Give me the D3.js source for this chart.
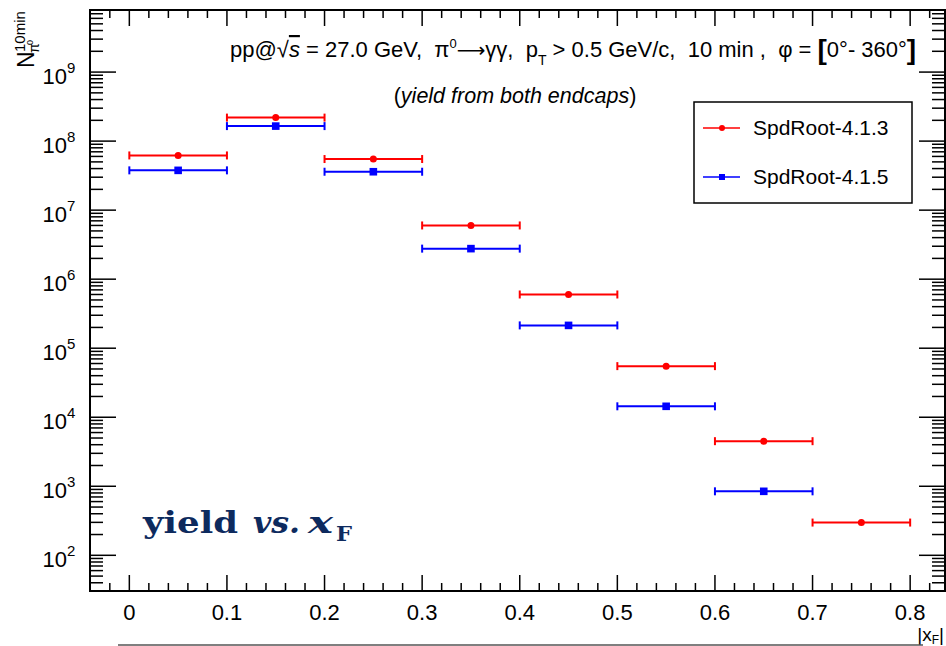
<!DOCTYPE html>
<html>
<head>
<meta charset="utf-8">
<script src="https://cdn.jsdelivr.net/npm/d3@7"></script>
<style>
  html, body { margin: 0; padding: 0; background: #fff; }
  svg { display: block; font-family: "Liberation Sans", Arial, Helvetica, sans-serif; }
</style>
</head>
<body>
<svg id="chart" width="946" height="646"></svg>
<script>
// ---- data ----
const binCenters = [0.05, 0.15, 0.25, 0.35, 0.45, 0.55, 0.65, 0.75];
const binHalfWidth = 0.05;
const yieldV413 = [6.2e7, 2.19e8, 5.5e7, 6.0e6, 6.0e5, 5.5e4, 4.5e3, 298];
const yieldV415 = [3.77e7, 1.65e8, 3.6e7, 2.77e6, 2.14e5, 1.44e4, 845, null];
const seriesNames = ["SpdRoot-4.1.3", "SpdRoot-4.1.5"];
const seriesColors = ["#ff0000", "#0000ff"];
const xTickLabels = ["0", "0.1", "0.2", "0.3", "0.4", "0.5", "0.6", "0.7", "0.8"];
const yDecades = [2, 3, 4, 5, 6, 7, 8, 9];

// ---- layout ----
const svg = d3.select("#chart");
const L = 90, R = 945, T = 10, B = 591;
const x = d3.scaleLinear().domain([-0.0403, 0.8357]).range([L, R]);
const y = d3.scaleLog().domain([30.4, 7.93e9]).range([B, T]);

// ---- frame ----
svg.append("rect").attr("x", L).attr("y", T).attr("width", R - L).attr("height", B - T)
  .attr("fill", "none").attr("stroke", "#000").attr("stroke-width", 2);

// ---- x ticks (bottom & top) ----
const xMinor = d3.range(-0.04, 0.8357, 0.02).map(v => Math.round(v * 100) / 100);
const tickG = svg.append("g").attr("stroke", "#000").attr("stroke-width", 1.5);
xMinor.forEach(v => {
  const major = Math.abs(v * 10 - Math.round(v * 10)) < 1e-6;
  const len = major ? 16 : 8;
  const px = x(v);
  if (px <= L + 1 || px >= R - 1) return;
  tickG.append("line").attr("x1", px).attr("x2", px).attr("y1", B).attr("y2", B - len);
  tickG.append("line").attr("x1", px).attr("x2", px).attr("y1", T).attr("y2", T + len);
});
xTickLabels.forEach((lab, i) => {
  svg.append("text").attr("x", x(i * 0.1)).attr("y", 620).attr("text-anchor", "middle")
    .attr("font-size", 22).text(lab);
});

// ---- y ticks (left & right) ----
for (let d = 1; d <= 9; d++) {
  for (let m = 1; m <= 9; m++) {
    const v = m * Math.pow(10, d);
    if (v < 30.4 || v > 7.93e9) continue;
    const py = y(v);
    const len = m === 1 ? 26 : 13;
    tickG.append("line").attr("x1", L).attr("x2", L + len).attr("y1", py).attr("y2", py);
    tickG.append("line").attr("x1", R).attr("x2", R - len).attr("y1", py).attr("y2", py);
  }
}
yDecades.forEach(d => {
  svg.append("text").attr("x", 67).attr("y", y(Math.pow(10, d)) + 12)
    .attr("text-anchor", "end").attr("font-size", 22).text("10");
  svg.append("text").attr("x", 67).attr("y", y(Math.pow(10, d)) + 1)
    .attr("font-size", 15).text(String(d));
});

// ---- y axis title ----
const yt = svg.append("g").attr("transform", "translate(34,68) rotate(-90)");
yt.append("text").attr("x", 0).attr("y", 0).attr("font-size", 23).text("N");
yt.append("text").attr("x", 16).attr("y", -9).attr("font-size", 15).text("10min");
yt.append("text").attr("x", 15).attr("y", 5).attr("font-size", 14).text("π");
yt.append("text").attr("x", 23).attr("y", -1).attr("font-size", 9).text("0");

// ---- x axis title (at the bottom edge, as in the original) ----
const xt = svg.append("text").attr("x", 944).attr("y", 641).attr("text-anchor", "end").attr("font-size", 19);
xt.append("tspan").text("|x");
xt.append("tspan").attr("font-size", 12).attr("dy", 3).text("F");
xt.append("tspan").attr("dy", -3).text("|");

// ---- bottom gray line (page artifact) ----
svg.append("line").attr("x1", 118).attr("x2", 923).attr("y1", 645).attr("y2", 645)
  .attr("stroke", "#555").attr("stroke-width", 1.5);

// ---- data ----
const series = [yieldV413, yieldV415];
series.forEach((vals, si) => {
  const g = svg.append("g").attr("stroke", seriesColors[si]).attr("fill", seriesColors[si]);
  vals.forEach((v, i) => {
    if (v == null) return;
    const c = binCenters[i];
    const py = y(v);
    const x0 = x(c - binHalfWidth), x1 = x(c + binHalfWidth);
    g.append("line").attr("x1", x0).attr("x2", x1).attr("y1", py).attr("y2", py).attr("stroke-width", 2);
    g.append("line").attr("x1", x0).attr("x2", x0).attr("y1", py - 4).attr("y2", py + 4).attr("stroke-width", 2);
    g.append("line").attr("x1", x1).attr("x2", x1).attr("y1", py - 4).attr("y2", py + 4).attr("stroke-width", 2);
    if (si === 0) {
      g.append("circle").attr("cx", x(c)).attr("cy", py).attr("r", 3.5).attr("stroke", "none");
    } else {
      g.append("rect").attr("x", x(c) - 3.8).attr("y", py - 3.8).attr("width", 7.6).attr("height", 7.6).attr("stroke", "none");
    }
  });
});

// ---- legend ----
const lg = svg.append("g");
lg.append("rect").attr("x", 694).attr("y", 102).attr("width", 218).attr("height", 101)
  .attr("fill", "#fff").attr("stroke", "#000").attr("stroke-width", 1.5);
seriesNames.forEach((name, i) => {
  const ly = 128 + i * 49;
  lg.append("line").attr("x1", 703).attr("x2", 740).attr("y1", ly).attr("y2", ly)
    .attr("stroke", seriesColors[i]).attr("stroke-width", 1.5);
  if (i === 0) lg.append("circle").attr("cx", 722).attr("cy", ly).attr("r", 3).attr("fill", seriesColors[i]);
  else lg.append("rect").attr("x", 719).attr("y", ly - 3).attr("width", 6).attr("height", 6).attr("fill", seriesColors[i]);
  lg.append("text").attr("x", 753).attr("y", ly + 7).attr("font-size", 21).text(name);
});

// ---- header text ----
const h1 = svg.append("text").attr("x", 230).attr("y", 57).attr("font-size", 22).attr("xml:space", "preserve");
h1.append("tspan").text("pp@");
h1.append("tspan").attr("font-size", 22).text("√");
h1.append("tspan").attr("font-style", "italic").attr("text-decoration", "overline").text("s");
h1.append("tspan").text(" = 27.0 GeV,  π");
h1.append("tspan").attr("font-size", 13).attr("dy", -9).text("0");
h1.append("tspan").attr("dy", 9).attr("font-family", "'DejaVu Sans', sans-serif").attr("font-size", 20).text("⟶");
h1.append("tspan").text("γγ,  p");
h1.append("tspan").attr("font-size", 14).attr("dy", 8).text("T");
h1.append("tspan").attr("dy", -8).text(" > 0.5 GeV/c,  10 min ,  φ = ");
h1.append("tspan").attr("font-size", 28).attr("font-weight", "bold").attr("dy", 2).text("[");
h1.append("tspan").attr("dy", -2).text("0°- 360°");
h1.append("tspan").attr("font-size", 28).attr("font-weight", "bold").attr("dy", 2).text("]");

const h2 = svg.append("text").attr("x", 515).attr("y", 103).attr("text-anchor", "middle").attr("font-size", 21.5);
h2.append("tspan").text("(");
h2.append("tspan").attr("font-style", "italic").text("yield from both endcaps");
h2.append("tspan").text(")");

// ---- annotation ----
const serif = "'DejaVu Serif', 'Liberation Serif', serif";
const annColor = "#0d2a5e";
svg.append("text").attr("x", 143).attr("y", 533).attr("font-family", serif).attr("font-weight", "bold")
  .attr("font-size", 29).attr("fill", annColor).attr("textLength", 95).attr("lengthAdjust", "spacingAndGlyphs").text("yield");
svg.append("text").attr("x", 253).attr("y", 533).attr("font-family", serif).attr("font-weight", "bold").attr("font-style", "italic")
  .attr("font-size", 29).attr("fill", annColor).attr("textLength", 47).attr("lengthAdjust", "spacingAndGlyphs").text("vs.");
svg.append("text").attr("x", 308).attr("y", 533).attr("font-family", serif).attr("font-weight", "bold").attr("font-style", "italic")
  .attr("font-size", 29).attr("fill", annColor).attr("textLength", 25).attr("lengthAdjust", "spacingAndGlyphs").text("x");
svg.append("text").attr("x", 336).attr("y", 541).attr("font-family", serif).attr("font-weight", "bold")
  .attr("font-size", 20).attr("fill", annColor).attr("textLength", 16).attr("lengthAdjust", "spacingAndGlyphs").text("F");
</script>
</body>
</html>
